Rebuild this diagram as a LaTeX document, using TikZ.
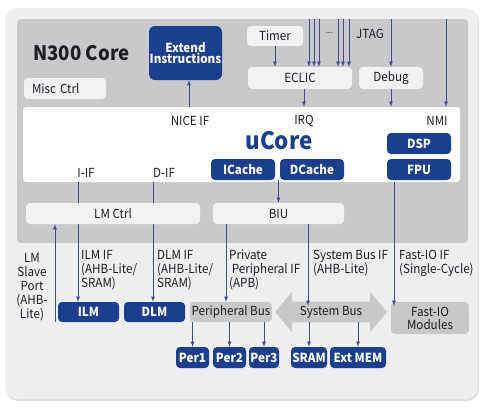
\documentclass[tikz,border=0pt]{standalone}
\usepackage{fontspec}
\setmainfont{Noto Sans CJK SC}[FakeStretch=0.93]
\usepackage{tikz}
\usetikzlibrary{positioning}
\usetikzlibrary{shapes.arrows}
\usetikzlibrary{shadows}
\definecolor{Core-Blue}{RGB}{27,63,140}
\definecolor{Core-Grey}{RGB}{201,201,204}
\definecolor{Board-Grey}{RGB}{239,239,241}
\definecolor{Box-Grey}{RGB}{242,242,244}
\definecolor{Bus-Grey}{RGB}{200,200,200}
\definecolor{Link}{RGB}{62,78,138}
\definecolor{Ink}{RGB}{30,30,34}

\begin{document}
\begin{tikzpicture}[x=1pt, y=-1pt]
    \tikzset{ blk/.style={fill=Core-Blue, rounded corners=4pt, text=white, inner sep=0pt, font=\fontsize{12.5}{11.5}\selectfont\bfseries, minimum height=21pt} }
    \tikzset{ lgt/.style={fill=Box-Grey, rounded corners=4pt, text=Ink, inner sep=0pt, font=\fontsize{12.5}{14}\selectfont, minimum height=21pt} }
    \tikzset{ bus/.style={fill=Bus-Grey, rounded corners=4pt, text=Ink, inner sep=0pt, font=\fontsize{12.5}{14}\selectfont, minimum height=20pt} }
    \tikzset{ txt/.style={text=Ink, inner sep=0pt, font=\fontsize{12.5}{14}\selectfont} }
    \tikzset{ lnk/.style={draw=Link, line width=0.8pt, ->, >=latex} }

    \useasboundingbox (0,0) rectangle (485,410);

    % frames
    \node[fill=Board-Grey, rounded corners=12pt, minimum width=473pt, minimum height=391pt, drop shadow={opacity=0.25, shadow xshift=1pt, shadow yshift=-2pt}] (board) at (241.5,203.5) {};
    \node[fill=Core-Grey, rounded corners=4pt, minimum width=451pt, minimum height=224pt] (n300) at (242.5,131) {};
    \node[fill=white, rounded corners=3pt, minimum width=437pt, minimum height=75pt] (uc) at (241.5,144.5) {};

    \node[txt, font=\fontsize{20}{20}\selectfont\bfseries] (title) at (81.5,53) {N300 Core};
    \node[blk, align=center, minimum width=73pt, minimum height=54pt, rounded corners=6pt] (ext) at (185.5,53) {Extend\\Instructions};
    \node[lgt, minimum width=82pt, text width=66pt, align=left] (misc) at (65,88.5) {Misc Ctrl};
    \node[lgt, minimum width=56pt, minimum height=20pt] (timer) at (275,36) {Timer};
    \node[lgt, minimum width=104pt, minimum height=22pt] (eclic) at (300,78) {ECLIC};
    \node[lgt, minimum width=64pt,  minimum height=22pt] (debug) at (391,78) {Debug};
    \node[txt] (jtag) at (370,34) {JTAG};
    \node[txt, font=\fontsize{8}{8}\selectfont] (dots) at (329,33) {...};

    % uCore
    \node[txt] (niceif) at (190,121) {NICE IF};
    \node[txt] (irq)    at (304,121) {IRQ};
    \node[txt] (nmi)    at (437,121) {NMI};
    \node[txt, text=Core-Blue, font=\fontsize{24}{24}\selectfont\bfseries] (ucore) at (279,141) {uCore};
    \node[blk, minimum width=64pt] (icache) at (243,169.5) {ICache};
    \node[blk, minimum width=64pt] (dcache) at (312,169.5) {DCache};
    \node[blk, minimum width=64pt] (dsp)    at (419,143.5) {DSP};
    \node[blk, minimum width=64pt] (fpu)    at (419,169.5) {FPU};
    \node[txt] (iif) at (86,173) {I-IF};
    \node[txt] (dif) at (164,173) {D-IF};

    % memories and buses
    \node[blk, minimum width=61pt, minimum height=20pt] (ilm) at (88.5,312) {ILM};
    \node[blk, minimum width=61pt, minimum height=20pt] (dlm) at (154.5,312) {DLM};
    \node[bus, minimum width=82pt] (perbus) at (231,312) {Peripheral Bus};
    \node[double arrow, fill=Bus-Grey, text=Ink, font=\fontsize{12.5}{14}\selectfont, inner xsep=0pt, inner ysep=4pt, minimum width=40pt, minimum height=112pt, double arrow head extend=10pt, double arrow tip angle=100] (sysbus) at (331,312) {System Bus};
    \node[bus, align=center, font=\fontsize{12.5}{13}\selectfont, minimum width=78pt, minimum height=32pt] (fastio) at (430,318) {Fast-IO\\Modules};

    \node[blk, minimum width=33pt] (per1)   at (192.5,357.5) {Per1};
    \node[blk, minimum width=33pt] (per2)   at (229.5,357.5) {Per2};
    \node[blk, minimum width=30pt] (per3)   at (264,357.5)   {Per3};
    \node[blk, minimum width=36pt] (sram)   at (309,357.5)   {SRAM};
    \node[blk, minimum width=56pt] (extmem) at (358,357.5)   {Ext MEM};

    % interface labels
    \node[txt, align=center] (lmslave) at (32,287) {LM\\Slave\\Port\\(AHB-\\Lite)};
    \node[txt, align=left, anchor=west] (ilmif) at (81,270) {ILM IF\\(AHB-Lite/\\SRAM)};
    \node[txt, align=left, anchor=west] (dlmif) at (157,270) {DLM IF\\(AHB-Lite/\\SRAM)};
    \node[txt, align=left, anchor=west] (ppif)  at (229,270) {Private\\\ Peripheral IF\\(APB)};
    \node[txt, align=left, anchor=west] (sbif)  at (313,263) {System Bus IF\\(AHB-Lite)};
    \node[txt, align=left, anchor=west] (fioif) at (399,263) {Fast-IO IF\\(Single-Cycle)};

    % line positions
    \coordinate (xiif) at (78,0);
    \coordinate (xdif) at (153,0);
    \coordinate (xslv) at (55,0);
    \coordinate (xppf) at (226,0);
    \coordinate (xsbf) at (308,0);
    \coordinate (xfio) at (394,0);
    \coordinate (xnmi) at (446,0);
    \coordinate (xirq) at (304,0);
    \coordinate (xnic) at (189,0);

    \draw[lnk] (uc.south -| xiif) -- (ilm.north -| xiif);
    \draw[lnk] (uc.south -| xdif) -- (dlm.north -| xdif);

    \node[lgt, minimum width=174pt] (lmctrl) at (113,213.5) {LM Ctrl};
    \node[lgt, minimum width=131pt] (biu)    at (278.5,213.5) {BIU};

    % links
    \draw[lnk] (ilm.south -| xslv) -- (lmctrl.south -| xslv);
    \draw[lnk] (biu.south -| xppf) -- (perbus.north -| xppf);
    \draw[lnk] (biu.south -| xsbf) -- ([yshift=-4pt]perbus.north -| xsbf);
    \draw[lnk] (uc.south -| xfio) -- ([yshift=-4pt]fastio.north -| xfio);
    \draw[lnk] (dcache.south -| biu.north) -- (biu.north);
    \draw[lnk] (uc.north -| xnic) -- (ext.south -| xnic);

    \draw[lnk] (timer.south) -- (eclic.north -| timer.south);
    \draw[lnk] (eclic.south -| xirq) -- (uc.north -| xirq);
    \draw[lnk] (debug.south) -- (uc.north -| debug.south);
    \draw[lnk] (n300.north -| debug.north) -- (debug.north);
    \draw[lnk] (n300.north -| xnmi) -- (uc.north -| xnmi);
    \foreach \x in {309,314,319,338,343,349}
        \draw[lnk] (n300.north -| \x,0) -- (eclic.north -| \x,0);

    \foreach \p in {per1,per2,per3}
        \draw[lnk] (perbus.south -| \p.north) -- (\p.north);
    \foreach \p in {sram,extmem}
        \draw[lnk] (perbus.south -| \p.north) -- (\p.north);
\end{tikzpicture}
\end{document}
